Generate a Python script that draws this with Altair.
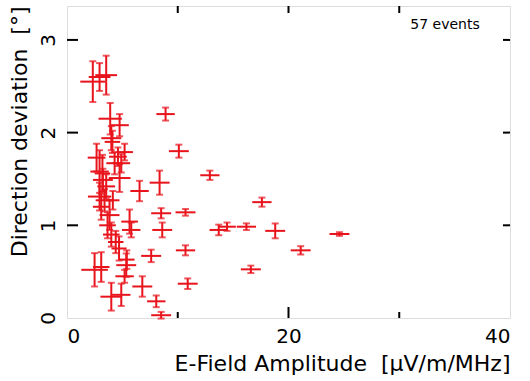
import altair as alt
import pandas as pd

# amplitude [uV/m/MHz], direction deviation [deg], half errors
amp = [2.33, 2.94, 3.54, 3.9, 4.75, 4.0, 8.9, 10.1,
       4.6, 4.3, 4.9, 5.2,
       2.94, 3.24, 4.75, 6.55, 8.36, 2.94,
       3.39, 3.09, 3.54,
       3.84, 4.14, 5.65, 5.8, 8.5, 8.6, 10.7, 4.0, 4.7, 7.6, 10.7,
       2.49, 3.09, 5.35, 5.2, 6.8, 10.9, 4.0, 4.9, 8.06, 8.5,
       12.9, 17.6, 13.7, 14.45, 16.2, 18.8, 24.6, 21.1, 16.6,
       4.1, 2.67, 3.2, 3.66, 5.4, 4.4]
dev = [2.55, 2.60, 2.62, 2.15, 2.08, 1.94, 2.20, 1.80,
       1.74, 1.67, 1.67, 1.79,
       1.58, 1.49, 1.51, 1.37, 1.46, 1.31,
       1.27, 1.20, 1.42,
       1.11, 1.27, 1.04, 0.95, 1.13, 0.95, 1.14, 0.90, 0.75, 0.67, 0.73,
       0.52, 0.55, 0.57, 0.45, 0.34, 0.37, 0.23, 0.25, 0.18, 0.03,
       1.54, 1.25, 0.95, 0.985, 0.985, 0.94, 0.906, 0.73, 0.525,
       1.90, 1.73, 1.56, 1.00, 0.63, 0.82]
amp_err = [1.13, 0.98, 0.98, 1.05, 0.83, 0.9, 0.83, 0.9,
           0.8, 0.75, 0.8, 0.75,
           0.83, 0.9, 0.98, 0.83, 0.9, 1.05,
           0.8, 0.75, 0.8,
           0.9, 0.6, 0.75, 0.83, 0.9, 0.9, 0.9, 0.75, 0.68, 0.9, 0.87,
           1.2, 0.75, 0.9, 0.83, 0.9, 0.9, 0.98, 0.83, 0.83, 0.9,
           0.87, 0.87, 0.83, 0.8, 0.87, 0.9, 0.9, 0.9, 0.9,
           0.7, 0.8, 0.7, 0.75, 0.7, 0.7]
dev_err = [0.22, 0.15, 0.21, 0.17, 0.12, 0.13, 0.07, 0.07,
           0.10, 0.12, 0.10, 0.09,
           0.23, 0.12, 0.15, 0.11, 0.13, 0.15,
           0.12, 0.14, 0.13,
           0.16, 0.10, 0.13, 0.08, 0.055, 0.08, 0.036, 0.13, 0.13, 0.067, 0.054,
           0.18, 0.16, 0.126, 0.07, 0.11, 0.057, 0.15, 0.12, 0.063, 0.036,
           0.05, 0.049, 0.057, 0.045, 0.036, 0.08, 0.02, 0.045, 0.04,
           0.12, 0.15, 0.20, 0.14, 0.10, 0.12]

x_minor = [10, 30]
x_major = [20]
y_ticks = [1, 2, 3]

RED = "#e8141c"
FONT = "DejaVu Sans"
W, H = 443, 312

df = pd.DataFrame({"x": amp, "y": dev, "xe": amp_err, "ye": dev_err})
df["xlo"] = df["x"] - df["xe"]
df["xhi"] = df["x"] + df["xe"]
df["ylo"] = df["y"] - df["ye"]
df["yhi"] = df["y"] + df["ye"]

xs = alt.Scale(domain=[0, 40], nice=False, zero=False)
ys = alt.Scale(domain=[0, 3.366], nice=False, zero=False)
xaxis = alt.Axis(values=[0, 20, 40], tickSize=0, grid=False, domain=False,
                 labelFontSize=20, labelFont=FONT, labelColor="black", labelPadding=8,
                 title="E-Field Amplitude\u00a0 [\u03bcV/m/MHz]", titleFont=FONT,
                 titleFontSize=22, titleFontWeight="normal", titleColor="black",
                 titleAnchor="end", titlePadding=7)
yaxis = alt.Axis(values=[0, 1, 2, 3], tickSize=0, grid=False, domain=False,
                 labelFontSize=20, labelFont=FONT, labelColor="black", labelPadding=9,
                 labelAngle=270, labelAlign="center", labelBaseline="bottom",
                 title="Direction deviation\u00a0 [\u00b0]", titleFont=FONT,
                 titleFontSize=22, titleFontWeight="normal", titleColor="black",
                 titleAnchor="end", titlePadding=7)

X = lambda f: alt.X(f, type="quantitative", scale=xs, axis=xaxis)
Y = lambda f: alt.Y(f, type="quantitative", scale=ys, axis=yaxis)

base = alt.Chart(df)
xbars = base.mark_rule(color=RED, strokeWidth=2).encode(x=X("xlo"), x2="xhi", y=Y("y"))
ybars = base.mark_rule(color=RED, strokeWidth=2).encode(x=X("x"), y=Y("ylo"), y2="yhi")
cap_lo = base.mark_tick(color=RED, orient="horizontal", size=7, thickness=2).encode(x=X("x"), y=Y("ylo"))
cap_hi = base.mark_tick(color=RED, orient="horizontal", size=7, thickness=2).encode(x=X("x"), y=Y("yhi"))

tick = dict(color="black", strokeWidth=2)
bx_minor = alt.Chart(pd.DataFrame({"v": x_minor})).mark_rule(**tick).encode(
    x=X("v"), y=alt.value(H), y2=alt.value(H - 6))
bx_major = alt.Chart(pd.DataFrame({"v": x_major})).mark_rule(**tick).encode(
    x=X("v"), y=alt.value(H), y2=alt.value(H - 11))
tx = alt.Chart(pd.DataFrame({"v": x_minor + x_major})).mark_rule(**tick).encode(
    x=X("v"), y=alt.value(0), y2=alt.value(7))
ly = alt.Chart(pd.DataFrame({"v": y_ticks})).mark_rule(**tick).encode(
    y=Y("v"), x=alt.value(0), x2=alt.value(11))
ry = alt.Chart(pd.DataFrame({"v": y_ticks})).mark_rule(**tick).encode(
    y=Y("v"), x=alt.value(W), x2=alt.value(W - 7))

label = alt.Chart(pd.DataFrame({"x": [31.0], "y": [3.16], "t": ["57 events"]})).mark_text(
    align="left", baseline="middle", fontSize=14, font=FONT, color="black").encode(
    x=X("x"), y=Y("y"), text="t")

chart = alt.layer(xbars, ybars, cap_lo, cap_hi, bx_minor, bx_major, tx, ly, ry, label).properties(
    width=W, height=H,
    autosize=alt.AutoSizeParams(type="none"),
    padding={"left": 67, "top": 6, "right": 20, "bottom": 63},
).configure_view(stroke="black", strokeWidth=2).configure(background="white")

chart.save("out.html", embed_options={"renderer": "svg", "actions": False})
